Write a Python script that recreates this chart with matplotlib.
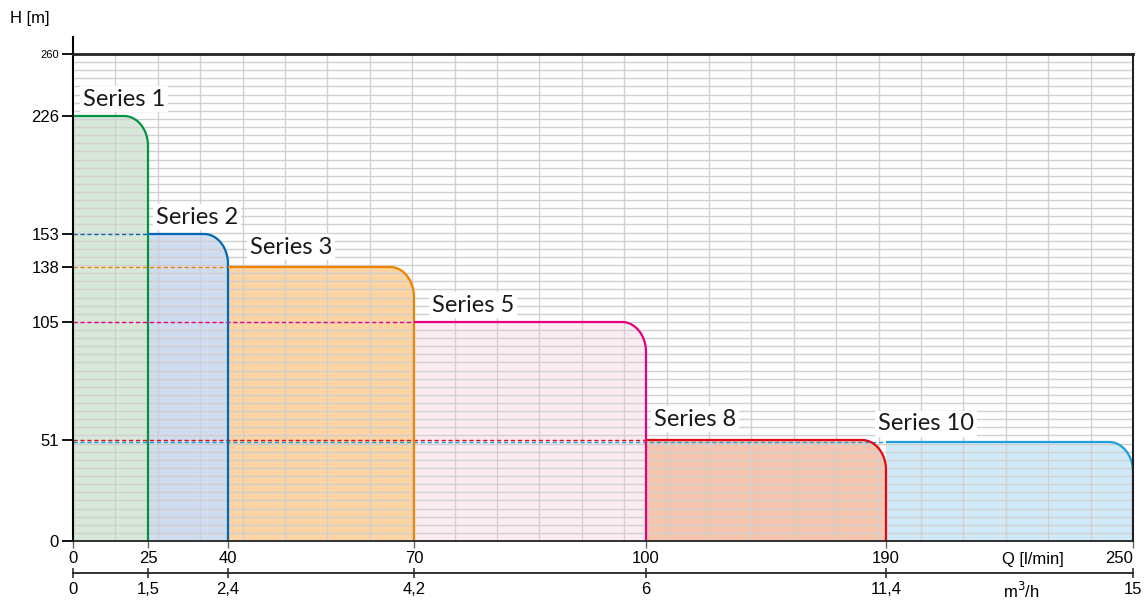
import matplotlib
matplotlib.use('Agg')
import matplotlib.pyplot as plt
import numpy as np

# axis ticks and where they sit along the sheet (pixels from origin)
q_ticks = [0, 25, 40, 70, 100, 190, 250]
q_pos = [0, 75, 155, 341, 573, 813, 1060]
h_ticks = [0, 51, 105, 138, 153, 226, 260]
h_pos = [0, 101, 219, 274, 307, 425, 487]

# series data
names = ['Series 1', 'Series 2', 'Series 3', 'Series 5', 'Series 8', 'Series 10']
q_start = [0, 25, 40, 70, 100, 190]
q_end = [25, 40, 70, 100, 190, 250]
h_max = [226, 153, 138, 105, 51, 50]

line_col = ['#009640', '#0068b4', '#f08300', '#e5007e', '#e30613', '#1d9fdb']
fill_col = ['#d8e8d8', '#d0dcf0', '#fdd4a2', '#fdebf3', '#f6c3ad', '#d0e9f8']
lab_off = [(10, 17), (8, 17), (22, 20), (18, 17), (8, 21), (-8, 18)]

def fx(x):
    return np.interp(x, q_ticks, q_pos)

def ix(p):
    return np.interp(p, q_pos, q_ticks)

def fy(y):
    return np.interp(y, h_ticks, h_pos)

def iy(p):
    return np.interp(p, h_pos, h_ticks)

tick_font = ['Liberation Sans Narrow', 'Liberation Sans', 'DejaVu Sans']
lab_font = ['Lato', 'DejaVu Sans']

fig = plt.figure(figsize=(11.45, 6), dpi=100)
ax = fig.add_axes([73/1145, 59/600, 1060/1145, 487/600])
ax.set_xscale('function', functions=(fx, ix))
ax.set_yscale('function', functions=(fy, iy))
ax.set_xlim(0, 250)
ax.set_ylim(0, 260)

# background grid (uniform on the sheet)
for k in range(1, 25):
    ax.plot([k/25, k/25], [0, 1], transform=ax.transAxes, color='#d0d0d0', lw=1, zorder=2)
for k in range(1, 60):
    ax.plot([0, 1], [k/60, k/60], transform=ax.transAxes, color='#d0d0d0', lw=1, zorder=2)

rx, ry = 24, 30
t = np.linspace(0, np.pi/2, 40)
for i in range(len(names)):
    q0, q1, h = q_start[i], q_end[i], h_max[i]
    cx = fx(q1) - rx + rx*np.sin(t)
    cy = fy(h) - ry + ry*np.cos(t)
    xs = np.concatenate([[q0], ix(cx), [q1]])
    ys = np.concatenate([[h], iy(cy), [0]])
    ax.fill(np.concatenate([[q0], xs]), np.concatenate([[0], ys]),
            color=fill_col[i], lw=0, zorder=1)
    ax.plot(xs, ys, color=line_col[i], lw=1.6, zorder=5, solid_capstyle='butt')
    if q0 > 0:
        ax.plot([0, q0], [h, h], color=line_col[i], lw=1, ls=(0, (3, 2)), zorder=3)
    ax.annotate(names[i], (q0, h), xytext=lab_off[i], textcoords='offset pixels',
                ha='left', va='center', fontsize=17, family=lab_font, color='#1a1a1a',
                bbox=dict(boxstyle='square,pad=0.12', fc='white', ec='none'), zorder=6)

# spines
for s in ['top', 'right', 'left', 'bottom']:
    ax.spines[s].set_zorder(7)
ax.spines['top'].set_linewidth(2)
ax.spines['top'].set_color('#222222')
ax.spines['right'].set_linewidth(1.5)
ax.spines['right'].set_color('#222222')
ax.spines['left'].set_linewidth(1.5)
ax.spines['bottom'].set_linewidth(1.3)
ax.spines['bottom'].set_color('#222222')
ax.plot([0, 0], [1, 1.035], transform=ax.transAxes, color='black', lw=1.5, clip_on=False)

ax.set_yticks(h_ticks)
ax.set_yticklabels([str(v) for v in h_ticks], family=tick_font, fontsize=12)
ax.get_yticklabels()[-1].set_fontsize(8)
ax.tick_params(axis='y', length=8, width=1.3, pad=2, color='black')
ax.set_xticks(q_ticks)
ax.set_xticklabels([str(v) for v in q_ticks], family=tick_font, fontsize=12)
ax.get_xticklabels()[-1].set_horizontalalignment('right')
ax.tick_params(axis='x', length=5, width=1, pad=2, color='#666666')
ax.minorticks_off()

# second flow axis in m3/h
m3h = [round(q * 0.06, 1) for q in q_ticks]
ax2 = ax.twiny()
ax2.set_xscale('function', functions=(fx, ix))
ax2.set_xlim(0, 250)
ax2.xaxis.set_ticks_position('bottom')
ax2.spines['bottom'].set_position(('outward', 23))
for s in ['top', 'right', 'left']:
    ax2.spines[s].set_visible(False)
ax2.spines['bottom'].set_linewidth(1.3)
ax2.spines['bottom'].set_color('#222222')
ax2.set_xticks(q_ticks)
ax2.set_xticklabels([('%g' % v).replace('.', ',') for v in m3h], family=tick_font, fontsize=12)
ax2.tick_params(axis='x', direction='inout', length=7, width=1.2, pad=3, color='#333333')
ax2.minorticks_off()

ax.text(0.906, -0.039, 'Q [l/min]', transform=ax.transAxes, ha='center', va='center',
        family=tick_font, fontsize=12)
ax.text(0.895, -0.102, 'm$^3$/h', transform=ax.transAxes, ha='center', va='center',
        family=tick_font, fontsize=12)
fig.text(10/1145, 1 - 18/600, 'H [m]', ha='left', va='center', family=tick_font, fontsize=12)

fig.savefig('out.png', dpi=100)
